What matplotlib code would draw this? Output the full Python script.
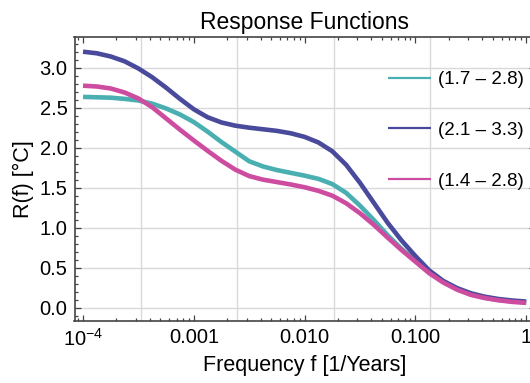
import matplotlib
matplotlib.use('Agg')
import matplotlib.pyplot as plt
import numpy as np

# datos
log_frecuencia = [-4.0, -3.875, -3.75, -3.625, -3.5, -3.375, -3.25, -3.125,
                  -3.0, -2.875, -2.75, -2.625, -2.5, -2.375, -2.25, -2.125,
                  -2.0, -1.875, -1.75, -1.625, -1.5, -1.375, -1.25, -1.125,
                  -1.0, -0.875, -0.75, -0.625, -0.5, -0.375, -0.25, -0.125, 0.0]

respuesta_17_28 = [2.635, 2.63, 2.625, 2.61, 2.59, 2.55, 2.49, 2.415,
                   2.32, 2.20, 2.07, 1.95, 1.83, 1.765, 1.72, 1.685,
                   1.65, 1.61, 1.545, 1.435, 1.275, 1.095, 0.905, 0.735,
                   0.585, 0.45, 0.33, 0.235, 0.168, 0.125, 0.097, 0.078, 0.065]

respuesta_21_33 = [3.20, 3.18, 3.14, 3.08, 2.99, 2.88, 2.75, 2.61,
                   2.48, 2.38, 2.315, 2.275, 2.25, 2.23, 2.21, 2.18,
                   2.135, 2.065, 1.955, 1.785, 1.56, 1.31, 1.06, 0.84,
                   0.645, 0.465, 0.335, 0.245, 0.18, 0.137, 0.108, 0.089, 0.076]

respuesta_14_28 = [2.775, 2.765, 2.74, 2.69, 2.615, 2.505, 2.365, 2.225,
                   2.09, 1.96, 1.835, 1.725, 1.645, 1.60, 1.57, 1.54,
                   1.505, 1.46, 1.40, 1.305, 1.18, 1.035, 0.875, 0.72,
                   0.575, 0.43, 0.315, 0.225, 0.16, 0.12, 0.092, 0.072, 0.06]

etiquetas = ['(1.7 – 2.8)', '(2.1 – 3.3)', '(1.4 – 2.8)']
colores = ['#4aafb1', '#4a4a9c', '#cd4ca0']

ticks_x = [1e-4, 1e-3, 1e-2, 1e-1, 1.0]
etiquetas_x = ['$10^{-4}$', '0.001', '0.010', '0.100', '1']
ticks_y = [0.0, 0.5, 1.0, 1.5, 2.0, 2.5, 3.0]

plt.rcParams['font.family'] = ['Liberation Sans', 'DejaVu Sans']
plt.rcParams['mathtext.fontset'] = 'custom'
plt.rcParams['mathtext.rm'] = 'Liberation Sans'
plt.rcParams['mathtext.default'] = 'regular'

frecuencia = 10 ** np.array(log_frecuencia)

fig = plt.figure(figsize=(5.30, 3.83), dpi=100)
ax = fig.add_axes([74.5 / 530, 62 / 383, 460 / 530, 283.7 / 383])

# lineas de la rejilla (Mathematica las pone en e^-8, e^-6, ...)
for g in np.exp([-8.0, -6.0, -4.0, -2.0]):
    ax.axvline(g, color='#d9d9d9', lw=1.0, zorder=0)
for g in ticks_y:
    ax.axhline(g, color='#d9d9d9', lw=1.0, zorder=0)

series = [respuesta_17_28, respuesta_21_33, respuesta_14_28]
for datos, color, etiqueta in zip(series, colores, etiquetas):
    ax.plot(frecuencia, datos, color=color, lw=3.3, label=etiqueta,
            solid_capstyle='butt', solid_joinstyle='round')

ax.set_xscale('log')
ax.set_xlim(10 ** -4.077, 10 ** 0.075)
ax.set_ylim(-0.167, 3.38)

ax.set_xticks(ticks_x)
ax.set_xticklabels(etiquetas_x)
ax.xaxis.set_minor_locator(matplotlib.ticker.LogLocator(base=10, subs=np.arange(2, 10)))
ax.xaxis.set_minor_formatter(matplotlib.ticker.NullFormatter())
ax.set_yticks(ticks_y)
ax.set_yticklabels(['%.1f' % t for t in ticks_y])
ax.yaxis.set_minor_locator(matplotlib.ticker.MultipleLocator(0.1))

ax.tick_params(which='both', direction='in', top=True, right=True,
               color='#444444', labelsize=14.5, width=0.9)
ax.tick_params(which='major', length=4.5, pad=5)
ax.tick_params(which='minor', length=2.5)
for s in ax.spines.values():
    s.set_color('#444444')
    s.set_linewidth(1.2)

ax.set_title('Response Functions', fontsize=16.5, pad=6)
ax.set_xlabel('Frequency f [1/Years]', fontsize=15.5)
ax.set_ylabel('R(f) [°C]', fontsize=15.5)

leyenda = ax.legend(loc='upper left', bbox_to_anchor=(388 / 530, 1 - 71 / 383),
                    bbox_transform=fig.transFigure, frameon=False, fontsize=13.5,
                    handlelength=2.3, handletextpad=0.35, labelspacing=1.8,
                    borderpad=0, borderaxespad=0)
for linea in leyenda.get_lines():
    linea.set_linewidth(1.6)

fig.savefig('out.png', dpi=100)
